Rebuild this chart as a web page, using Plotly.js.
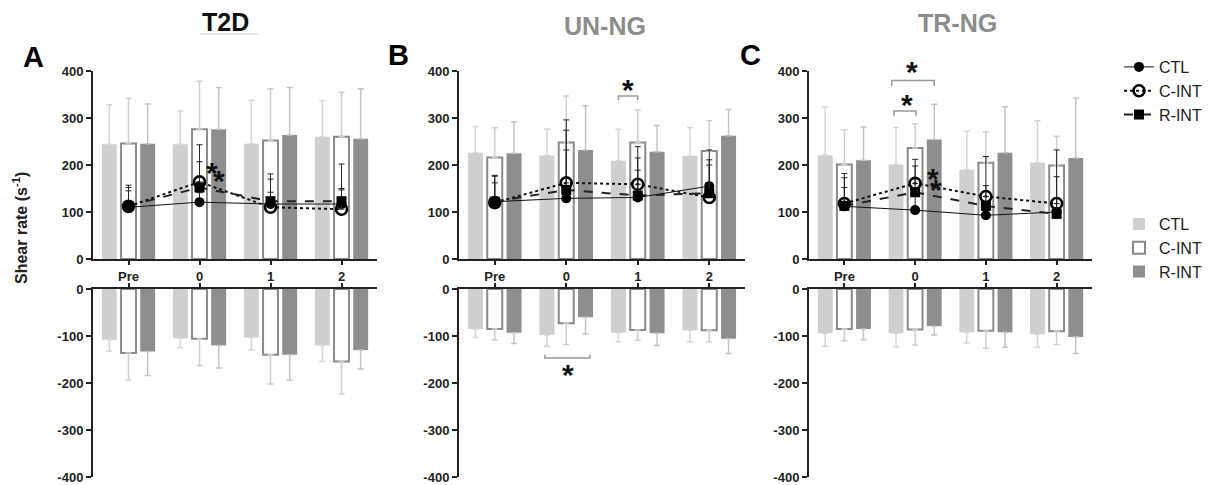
<!DOCTYPE html>
<html><head><meta charset="utf-8">
<script src="https://cdn.plot.ly/plotly-3.0.1.min.js"></script>
<style>html,body{margin:0;padding:0;background:#fff}#chart{width:1214px;height:485px}</style>
</head><body><div id="chart"></div>
<script>
// ---------- DATA ----------
const categories = ['Pre', '0', '1', '2'];
const groups = ['CTL', 'C-INT', 'R-INT'];

// Panel A : T2D  (bars = mean, sd = upper/lower SD)
const A_up_CTL = [244, 244, 245, 260],  A_up_CTL_sd = [84, 71, 93, 77];
const A_up_CINT = [246, 276, 252, 260], A_up_CINT_sd = [96, 102, 110, 95];
const A_up_RINT = [245, 276, 264, 256], A_up_RINT_sd = [85, 89, 101, 106];
const A_dn_CTL = [-108, -105, -103, -120], A_dn_CTL_sd = [24, 20, 27, 34];
const A_dn_CINT = [-136, -106, -140, -154], A_dn_CINT_sd = [58, 57, 62, 69];
const A_dn_RINT = [-133, -120, -140, -130], A_dn_RINT_sd = [51, 48, 54, 40];
const A_ln_CTL = [110, 121, 117, 117],  A_ln_CTL_sd = [35, 20, 25, 30];
const A_ln_CINT = [112, 164, 110, 106], A_ln_CINT_sd = [40, 79, 71, 96];
const A_ln_RINT = [113, 152, 123, 123], A_ln_RINT_sd = [44, 55, 47, 27];

// Panel B : UN-NG
const B_up_CTL = [226, 220, 209, 219],  B_up_CTL_sd = [56, 56, 67, 60];
const B_up_CINT = [216, 248, 248, 230], B_up_CINT_sd = [63, 99, 69, 64];
const B_up_RINT = [225, 232, 228, 262], B_up_RINT_sd = [67, 94, 56, 56];
const B_dn_CTL = [-85, -98, -93, -88],  B_dn_CTL_sd = [18, 24, 19, 24];
const B_dn_CINT = [-85, -73, -87, -88], B_dn_CINT_sd = [23, 45, 22, 24];
const B_dn_RINT = [-93, -60, -94, -106], B_dn_RINT_sd = [23, 36, 26, 31];
const B_ln_CTL = [122, 129, 131, 155],  B_ln_CTL_sd = [40, 103, 58, 56];
const B_ln_CINT = [120, 162, 159, 131], B_ln_CINT_sd = [58, 134, 80, 101];
const B_ln_RINT = [122, 147, 135, 140], B_ln_RINT_sd = [54, 127, 80, 60];

// Panel C : TR-NG
const C_up_CTL = [221, 201, 190, 205],  C_up_CTL_sd = [103, 79, 82, 89];
const C_up_CINT = [201, 236, 205, 199], C_up_CINT_sd = [74, 52, 65, 62];
const C_up_RINT = [210, 254, 226, 215], C_up_RINT_sd = [71, 75, 98, 127];
const C_dn_CTL = [-94, -94, -92, -96],  C_dn_CTL_sd = [28, 29, 23, 28];
const C_dn_CINT = [-85, -86, -89, -90], C_dn_CINT_sd = [25, 33, 37, 28];
const C_dn_RINT = [-85, -79, -92, -102], C_dn_RINT_sd = [23, 19, 32, 35];
const C_ln_CTL = [112, 104, 93, 100],   C_ln_CTL_sd = [40, 30, 30, 30];
const C_ln_CINT = [118, 161, 133, 118], C_ln_CINT_sd = [64, 51, 85, 114];
const C_ln_RINT = [113, 142, 113, 96],  C_ln_RINT_sd = [60, 56, 43, 79];

const yUpTicks = [0, 100, 200, 300, 400];
const yDnTicks = [0, -100, -200, -300, -400];
const yDnTickText = ['0', '-100', '-200', '-300', '-400'];

// ---------- STYLE ----------
const FONT = 'Arial, "Liberation Sans", sans-serif';
const xIdx = categories.map((c, i) => i);
const barStyle = [
  {fill: '#cfcfcf', line: '#cfcfcf', lw: 0, offset: -0.375, err: '#d6d6d6'},
  {fill: '#ffffff', line: '#8a8a8a', lw: 2, offset: -0.105, err: '#cfcfcf'},
  {fill: '#8e8e8e', line: '#8e8e8e', lw: 0, offset: 0.165, err: '#c4c4c4'}
];
const lineStyle = [
  {dash: 'solid', width: 1, color: '#111', symbol: 'circle', size: 10, mfill: '#000', mlw: 0},
  {dash: 'dot', width: 2, color: '#111', symbol: 'circle-open', size: 11, mfill: '#fff', mlw: 2.6},
  {dash: 'dash', width: 2, color: '#222', symbol: 'square', size: 10, mfill: '#000', mlw: 0}
];
const BW = 0.21;

const panels = [
  {up: [A_up_CTL, A_up_CINT, A_up_RINT], upsd: [A_up_CTL_sd, A_up_CINT_sd, A_up_RINT_sd],
   dn: [A_dn_CTL, A_dn_CINT, A_dn_RINT], dnsd: [A_dn_CTL_sd, A_dn_CINT_sd, A_dn_RINT_sd],
   ln: [A_ln_CTL, A_ln_CINT, A_ln_RINT], lnsd: [A_ln_CTL_sd, A_ln_CINT_sd, A_ln_RINT_sd]},
  {up: [B_up_CTL, B_up_CINT, B_up_RINT], upsd: [B_up_CTL_sd, B_up_CINT_sd, B_up_RINT_sd],
   dn: [B_dn_CTL, B_dn_CINT, B_dn_RINT], dnsd: [B_dn_CTL_sd, B_dn_CINT_sd, B_dn_RINT_sd],
   ln: [B_ln_CTL, B_ln_CINT, B_ln_RINT], lnsd: [B_ln_CTL_sd, B_ln_CINT_sd, B_ln_RINT_sd]},
  {up: [C_up_CTL, C_up_CINT, C_up_RINT], upsd: [C_up_CTL_sd, C_up_CINT_sd, C_up_RINT_sd],
   dn: [C_dn_CTL, C_dn_CINT, C_dn_RINT], dnsd: [C_dn_CTL_sd, C_dn_CINT_sd, C_dn_RINT_sd],
   ln: [C_ln_CTL, C_ln_CINT, C_ln_RINT], lnsd: [C_ln_CTL_sd, C_ln_CINT_sd, C_ln_RINT_sd]}
];

const W = 1214, H = 485;
const px = v => v / W, py = v => 1 - v / H;
const xDomains = [[px(93), px(377)], [px(459), px(745)], [px(809), px(1092)]];
const upDom = [py(259), py(71)];
const dnDom = [py(477), py(289)];

const traces = [];
const layout = {
  width: W, height: H, margin: {l: 0, r: 0, t: 0, b: 0},
  paper_bgcolor: '#fff', plot_bgcolor: 'rgba(0,0,0,0)',
  font: {family: FONT, color: '#222'},
  barmode: 'overlay', showlegend: true, hovermode: false,
  legend: {x: px(1119), xanchor: 'left', y: py(50), yanchor: 'top', font: {size: 16, family: FONT, color: '#222'},
           bgcolor: 'rgba(0,0,0,0)', itemwidth: 30, tracegroupgap: 0},
  legend2: {x: px(1119), xanchor: 'left', y: py(207), yanchor: 'top', font: {size: 16, family: FONT, color: '#222'},
            bgcolor: 'rgba(0,0,0,0)', itemwidth: 30, tracegroupgap: 0},
  annotations: [], shapes: []
};

const tickFont = {size: 13, family: FONT, weight: 'bold', color: '#222'};
function axName(n) { return n === 1 ? '' : String(n); }

panels.forEach((p, pi) => {
  const nu = pi * 2 + 1, nd = pi * 2 + 2;
  const xu = 'x' + axName(nu), yu = 'y' + axName(nu), xd = 'x' + axName(nd), yd = 'y' + axName(nd);
  const common = {range: [-0.5, 3.5], tickvals: xIdx, showline: true, linecolor: '#222', linewidth: 2,
                  ticks: 'outside', ticklen: 4, tickwidth: 2, tickcolor: '#222', showgrid: false, zeroline: false, fixedrange: true};
  layout['xaxis' + axName(nu)] = Object.assign({}, common, {domain: xDomains[pi], anchor: yu, ticktext: categories, tickfont: tickFont});
  layout['xaxis' + axName(nd)] = Object.assign({}, common, {domain: xDomains[pi], anchor: yd, side: 'top', ticktext: categories, showticklabels: false});
  const ycommon = {showline: true, linecolor: '#222', linewidth: 2, ticks: 'outside', ticklen: 5, tickwidth: 2, tickcolor: '#222',
                   showgrid: false, zeroline: false, tickfont: tickFont, fixedrange: true};
  layout['yaxis' + axName(nu)] = Object.assign({}, ycommon, {domain: upDom, anchor: xu, range: [0, 400], tickvals: yUpTicks, ticktext: yUpTicks.map(String)});
  layout['yaxis' + axName(nd)] = Object.assign({}, ycommon, {domain: dnDom, anchor: xd, range: [-400, 0], tickvals: yDnTicks, ticktext: yDnTickText});

  groups.forEach((g, gi) => {
    const s = barStyle[gi];
    traces.push({type: 'bar', x: xIdx, y: p.up[gi], xaxis: xu, yaxis: yu, width: BW, offset: s.offset,
      marker: {color: s.fill, line: {color: s.line, width: s.lw}}, name: g,
      legend: 'legend2', showlegend: pi === 0, legendgroup: 'bar' + g,
      error_y: {type: 'data', symmetric: false, array: p.upsd[gi], arrayminus: p.upsd[gi].map(() => 0), color: s.err, thickness: 1.5, width: 3}});
    traces.push({type: 'bar', x: xIdx, y: p.dn[gi], xaxis: xd, yaxis: yd, width: BW, offset: s.offset,
      marker: {color: s.fill, line: {color: s.line, width: s.lw}}, name: g, showlegend: false, legendgroup: 'bar' + g,
      error_y: {type: 'data', symmetric: false, array: p.dnsd[gi].map(() => 0), arrayminus: p.dnsd[gi], color: s.err, thickness: 1.5, width: 3}});
  });
  groups.forEach((g, gi) => {
    const s = lineStyle[gi];
    traces.push({type: 'scatter', mode: 'lines+markers', x: xIdx, y: p.ln[gi], xaxis: xu, yaxis: yu, name: g,
      legend: 'legend', showlegend: pi === 0, legendgroup: 'ln' + g, cliponaxis: false,
      line: {color: s.color, width: s.width, dash: s.dash},
      marker: {symbol: s.symbol, size: s.size, color: s.symbol === 'circle-open' ? '#000' : s.mfill, line: {width: s.mlw, color: '#000'}},
      error_y: {type: 'data', symmetric: false, array: p.lnsd[gi], arrayminus: p.lnsd[gi].map(() => 0), color: '#222', thickness: 1, width: 3}});
  });
});

// Titles, panel letters, axis title
const A = layout.annotations;
function txt(x, y, text, size, color, extra) {
  A.push(Object.assign({xref: 'paper', yref: 'paper', x: px(x), y: py(y), text: text, showarrow: false,
    xanchor: 'center', yanchor: 'middle', font: {family: FONT, size: size, color: color}}, extra || {}));
}
txt(225, 22, '<b>T2D</b>', 25, '#111');
txt(605, 26, '<b>UN-NG</b>', 25, '#8c8c8c');
txt(957, 23, '<b>TR-NG</b>', 25, '#8c8c8c');
txt(33, 57, '<b>A</b>', 29, '#000');
txt(398, 55, '<b>B</b>', 29, '#000');
txt(750, 55, '<b>C</b>', 29, '#000');
txt(20, 228, '<b>Shear rate (s<sup>-1</sup>)</b>', 16, '#222', {textangle: -90});
layout.shapes.push({type: 'line', xref: 'paper', yref: 'paper', x0: px(200), x1: px(258), y0: py(34), y1: py(34), line: {color: '#cccccc', width: 1}});

// significance asterisks and brackets (x in category-index units: Pre=0, '0'=1, '1'=2, '2'=3)
function star(xr, yr, x, y, shift) {
  A.push({xref: xr, yref: yr, x: x, y: y, text: '<b>*</b>', showarrow: false, xanchor: 'center', yanchor: 'middle',
          yshift: -3 + (shift || 0), font: {family: FONT, size: 30, color: '#111'}});
}
function bracket(xr, yr, x0, x1, y, yEnd) {
  layout.shapes.push({type: 'path', xref: xr, yref: yr,
    path: `M${x0},${yEnd} L${x0},${y} L${x1},${y} L${x1},${yEnd}`, line: {color: '#999', width: 1.5}});
}
star('x', 'y', 1.17, 191); star('x', 'y', 1.27, 174);
bracket('x3', 'y3', 1.73, 2.0, 347, 338); star('x3', 'y3', 1.87, 368);
bracket('x4', 'y4', 0.7, 1.33, -147, -140); star('x4', 'y4', 1.03, -176);
bracket('x5', 'y5', 0.67, 1.27, 380, 368); star('x5', 'y5', 0.96, 396, 4);
bracket('x5', 'y5', 0.7, 1.01, 315, 305); star('x5', 'y5', 0.89, 335);
star('x5', 'y5', 1.25, 178); star('x5', 'y5', 1.30, 155);

Plotly.newPlot('chart', traces, layout, {displayModeBar: false, staticPlot: true});
</script></body></html>
